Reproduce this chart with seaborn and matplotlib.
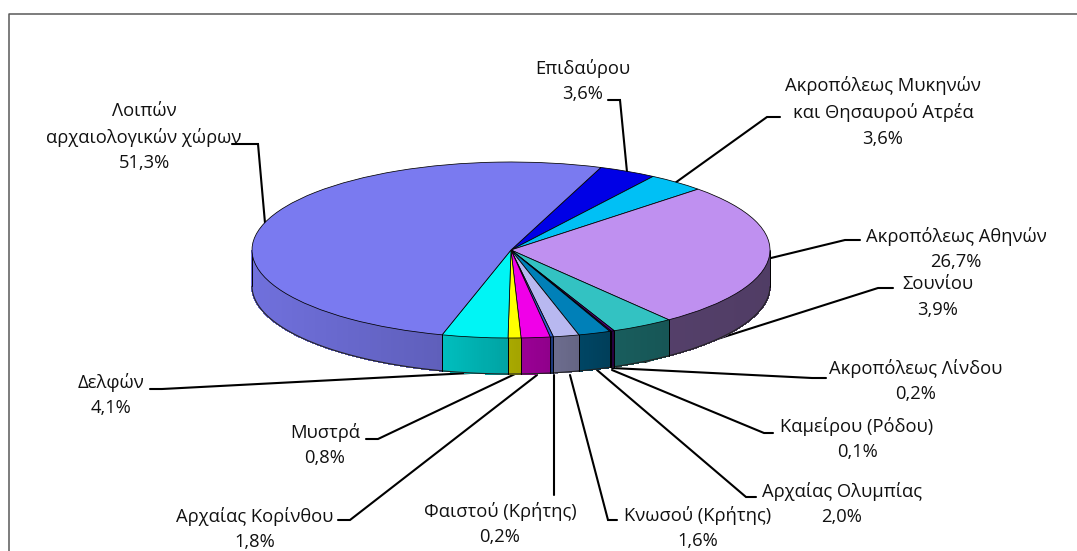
import numpy as np
import matplotlib
matplotlib.use("Agg")
import matplotlib.pyplot as plt
import seaborn as sns

categories = ["Επιδαύρου", "Ακροπόλεως Μυκηνών\nκαι Θησαυρού Ατρέα", "Ακροπόλεως Αθηνών", "Σουνίου",
              "Ακροπόλεως Λίνδου", "Καμείρου (Ρόδου)", "Αρχαίας Ολυμπίας", "Κνωσού (Κρήτης)",
              "Φαιστού (Κρήτης)", "Αρχαίας Κορίνθου", "Μυστρά", "Δελφών", "Λοιπών\nαρχαιολογικών χώρων"]
values = [3.6, 3.6, 26.7, 3.9, 0.2, 0.1, 2.0, 1.6, 0.2, 1.8, 0.8, 4.1, 51.3]
colors = ["#0000E6", "#00C0F5", "#BF90F0", "#33C2C2", "#500080", "#660080", "#0080B8", "#B8B8F0",
          "#3060D0", "#F000E8", "#FFFF00", "#00F5F5", "#7A7AF0"]

W, H = 1077, 551
CX, CY, RX, RY, DEPTH = 511.0, 250.0, 259.0, 88.0, 36.0
START = 69.7

sns.set_theme(style="white")
plt.rcParams["font.family"] = ["Open Sans", "DejaVu Sans"]

fig = plt.figure(figsize=(W / 100, H / 100), dpi=100, facecolor="white")
ax = fig.add_axes([0, 0, 1, 1], facecolor="none")
ax.set_zorder(2)
palette = sns.color_palette(colors)

ax.pie(values, colors=palette, startangle=START, counterclock=False, radius=1,
       wedgeprops=dict(edgecolor="black", linewidth=0.55), normalize=True)
ax.set_aspect("auto")
ax.set_xlim((0 - CX) / RX, (W - CX) / RX)
ax.set_ylim((CY - H) / RY, (CY - 0) / RY)
ax.set_axis_off()

# side wall, drawn from the same values
d = DEPTH / RY
fracs = np.array(values) / np.sum(values)
edges = START - 360 * np.concatenate([[0], np.cumsum(fracs)])
shade_x = [-1.0, -0.27, 0.0, 0.2, 0.4, 0.62, 1.0]
shade_v = [0.92, 0.78, 0.66, 0.58, 0.48, 0.44, 0.42]
for a0, a1, col in zip(edges[:-1], edges[1:], palette):
    ts = np.append(np.arange(a1, a0, 0.5), a0)
    ts = ts[np.sin(np.radians(ts)) < 0.0005]
    if len(ts) < 2:
        continue
    for t0, t1 in zip(ts[:-1], ts[1:]):
        xs = np.cos(np.radians([t0, t1]))
        ys = np.sin(np.radians([t0, t1]))
        s = np.interp(xs.mean(), shade_x, shade_v)
        c = tuple(np.array(col) * s)
        ax.fill([xs[0], xs[1], xs[1], xs[0]], [ys[0], ys[1], ys[1] - d, ys[0] - d],
                facecolor=c, edgecolor=c, lw=0.6, antialiased=False, zorder=0.5)
    xa = np.cos(np.radians(ts))
    ya = np.sin(np.radians(ts))
    ax.plot(xa, ya - d, color="#222222", lw=0.8, zorder=0.8)
    for t in (ts[0], ts[-1]):
        x, y = np.cos(np.radians(t)), np.sin(np.radians(t))
        ax.plot([x, x], [y, y - d], color="black", lw=0.7, zorder=0.8)

# overlay in pixel coordinates (sits behind the pie so leaders stop at its edge)
ov = fig.add_axes([0, 0, 1, 1], facecolor="none")
ov.set_zorder(1)
ov.set_xlim(0, W)
ov.set_ylim(H, 0)
ov.set_axis_off()
ov.plot([1077, 8.5, 8.5], [13.5, 13.5, 551], color="#595959", lw=1.1, clip_on=False)

label_xy = [(583, 81), (883, 112), (956, 249), (938, 297), (916, 381), (857, 439), (842, 504),
            (698, 528), (500, 524), (255, 529), (325, 445), (111, 395), (144, 137)]
leaders = [[(608, 100), (620, 100), (627, 172)],
           [(780, 117), (767, 117), (675, 183)],
           [(860, 240), (845, 240), (771, 258)],
           [(893, 288), (878, 288), (645, 362)],
           [(826, 378), (812, 378), (612, 368)],
           [(773, 433), (764, 433), (612, 370)],
           [(756, 497), (746, 497), (597, 370)],
           [(617, 520), (608, 520), (570, 375)],
           [(554, 495), (554, 375)],
           [(338, 520), (350, 520), (537, 375)],
           [(366, 439), (378, 439), (515, 374)],
           [(150, 389), (162, 389), (470, 373)],
           [(232, 144), (258, 144), (265, 223)]]

for cat, val, (x, y), pts in zip(categories, values, label_xy, leaders):
    ov.text(x, y, f"{cat}\n{val:.1f}%".replace(".", ","), ha="center", va="center",
            fontsize=13.2, color="#111111", linespacing=1.55)
    p = np.array(pts)
    ov.plot(p[:, 0], p[:, 1], color="black", lw=1.5, solid_joinstyle="miter")

fig.savefig("out.png", dpi=100, facecolor="white")
